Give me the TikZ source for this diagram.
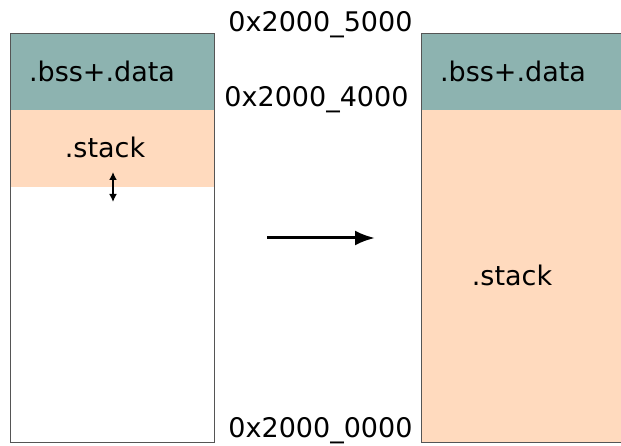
\documentclass[tikz,border=0pt]{standalone}
\usepackage{fontspec}
\setmainfont{DejaVu Sans}
\usetikzlibrary{arrows.meta}
\definecolor{segteal}{RGB}{141,179,176}
\definecolor{segpeach}{RGB}{255,218,190}
\definecolor{edge}{RGB}{85,85,85}
\tikzset{
  lbl/.style={font=\fontsize{27}{32}\selectfont, inner sep=0pt, anchor=base},
  addr/.style={font=\fontsize{27}{32}\selectfont, inner sep=0pt, anchor=base},
  frame/.style={draw=edge, line width=1pt},
}
\begin{document}
\begin{tikzpicture}[x=1pt,y=-1pt]
\useasboundingbox (0,0) rectangle (621,446);
% left memory map
\fill[segteal] (10,34) rectangle (214,110);
\fill[segpeach] (10,110) rectangle (214,187);
\draw[frame] (10,34) rectangle (214,442);
\node[lbl] (lbss) at (102,82) {.bss+.data};
\node[lbl] (lstack) at (105,158) {.stack};
\coordinate (gtop) at (113,172);
\coordinate (gbot) at (113,202);
\draw[line width=2pt, {Latex[length=8pt,width=8pt]}-{Latex[length=8pt,width=8pt]}] (gtop) -- (gbot);
% right memory map
\fill[segteal] (421,34) rectangle (622,110);
\fill[segpeach] (421,110) rectangle (622,442);
\draw[frame] (622,34) -- (421,34) -- (421,442) -- (622,442);
\node[lbl] (rbss) at (513,82) {.bss+.data};
\node[lbl] (rstack) at (512,286) {.stack};
% addresses
\node[addr] (a5) at (320.5,32) {0x2000\_5000};
\node[addr] (a4) at (316.5,107) {0x2000\_4000};
\node[addr] (a0) at (320.5,437) {0x2000\_0000};
% transition arrow
\coordinate (from) at (267,238);
\coordinate (to) at (375,238);
\draw[line width=3pt, -{Latex[length=20pt,width=15pt]}] (from) -- (to);
\end{tikzpicture}
\end{document}
